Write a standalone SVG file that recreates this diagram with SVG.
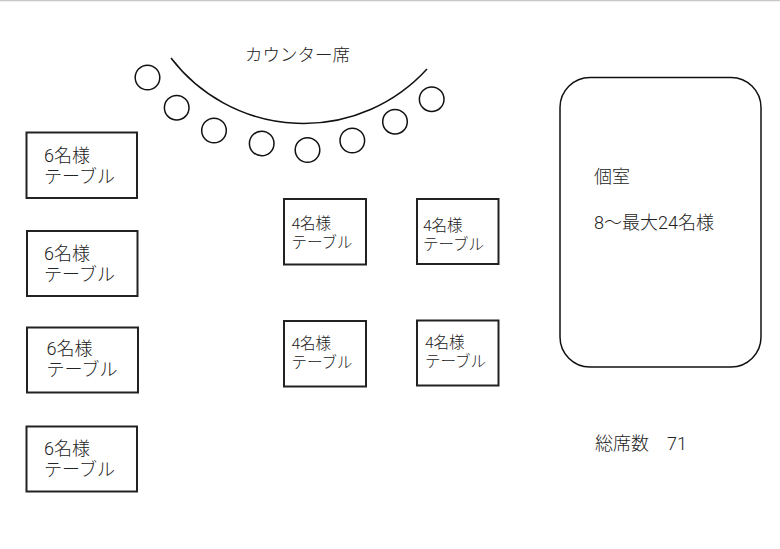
<svg xmlns="http://www.w3.org/2000/svg" width="780" height="549" viewBox="0 0 780 549">
<style>
text{font-family:Roboto,"Noto Sans CJK JP",sans-serif;fill:#222;font-weight:300;}
.tbl{fill:#fff;stroke:#222;stroke-width:2;}
.seat{fill:#fff;stroke:#111;stroke-width:1.5;}
.big{font-size:18px;}
.mid{font-size:15.5px;}
</style>
<rect x="0" y="0" width="780" height="549" fill="#fff"/>
<line x1="0" y1="0.5" x2="780" y2="0.5" stroke="#c8c8c8" stroke-width="1.5"/>
<g id="counter">
<path d="M171,58 A167,167 0 0 0 427,69" fill="none" stroke="#111" stroke-width="1.5"/>
<text x="245" y="61" font-size="17.5">カウンター席</text>
</g>
<g id="counter-seats">
<circle class="seat" cx="147.5" cy="77.5" r="12.3"/>
<circle class="seat" cx="176.7" cy="107.7" r="12.3"/>
<circle class="seat" cx="214" cy="130.5" r="12.3"/>
<circle class="seat" cx="261.7" cy="143.5" r="12.3"/>
<circle class="seat" cx="307.5" cy="150" r="12.3"/>
<circle class="seat" cx="352.3" cy="140.5" r="12.3"/>
<circle class="seat" cx="395" cy="121.7" r="12.3"/>
<circle class="seat" cx="431.7" cy="99.2" r="12.3"/>
</g>
<g id="table6-1">
<rect class="tbl" x="26.5" y="132.5" width="110.5" height="65.5"/>
<text class="big" x="44" y="162">6名様<tspan x="44" dy="21.2">テーブル</tspan></text>
</g>
<g id="table6-2">
<rect class="tbl" x="27" y="231" width="110.5" height="65"/>
<text class="big" x="44" y="260">6名様<tspan x="44" dy="21.2">テーブル</tspan></text>
</g>
<g id="table6-3">
<rect class="tbl" x="27" y="327.5" width="111" height="65"/>
<text class="big" x="46.5" y="355">6名様<tspan x="46.5" dy="21.2">テーブル</tspan></text>
</g>
<g id="table6-4">
<rect class="tbl" x="26.5" y="426.5" width="110.5" height="65"/>
<text class="big" x="44" y="455">6名様<tspan x="44" dy="21.2">テーブル</tspan></text>
</g>
<g id="table4-1">
<rect class="tbl" x="284" y="199" width="82" height="65.5"/>
<text class="mid" x="291.5" y="229">4名様<tspan x="291.5" dy="19">テーブル</tspan></text>
</g>
<g id="table4-2">
<rect class="tbl" x="417" y="199" width="81.5" height="65"/>
<text class="mid" x="423" y="231">4名様<tspan x="423" dy="19">テーブル</tspan></text>
</g>
<g id="table4-3">
<rect class="tbl" x="284" y="321" width="82" height="65.5"/>
<text class="mid" x="291.5" y="349">4名様<tspan x="291.5" dy="19">テーブル</tspan></text>
</g>
<g id="table4-4">
<rect class="tbl" x="417" y="320.5" width="81.5" height="65"/>
<text class="mid" x="425" y="348">4名様<tspan x="425" dy="19">テーブル</tspan></text>
</g>
<g id="private-room">
<rect x="560" y="77.5" width="201" height="289.5" rx="30" ry="30" fill="#fff" stroke="#111" stroke-width="1.5"/>
<text class="big" x="594" y="183">個室</text>
<text class="big" x="594" y="229">8〜最大24名様</text>
</g>
<g id="total">
<text class="big" x="595" y="450">総席数　71</text>
</g>
</svg>
